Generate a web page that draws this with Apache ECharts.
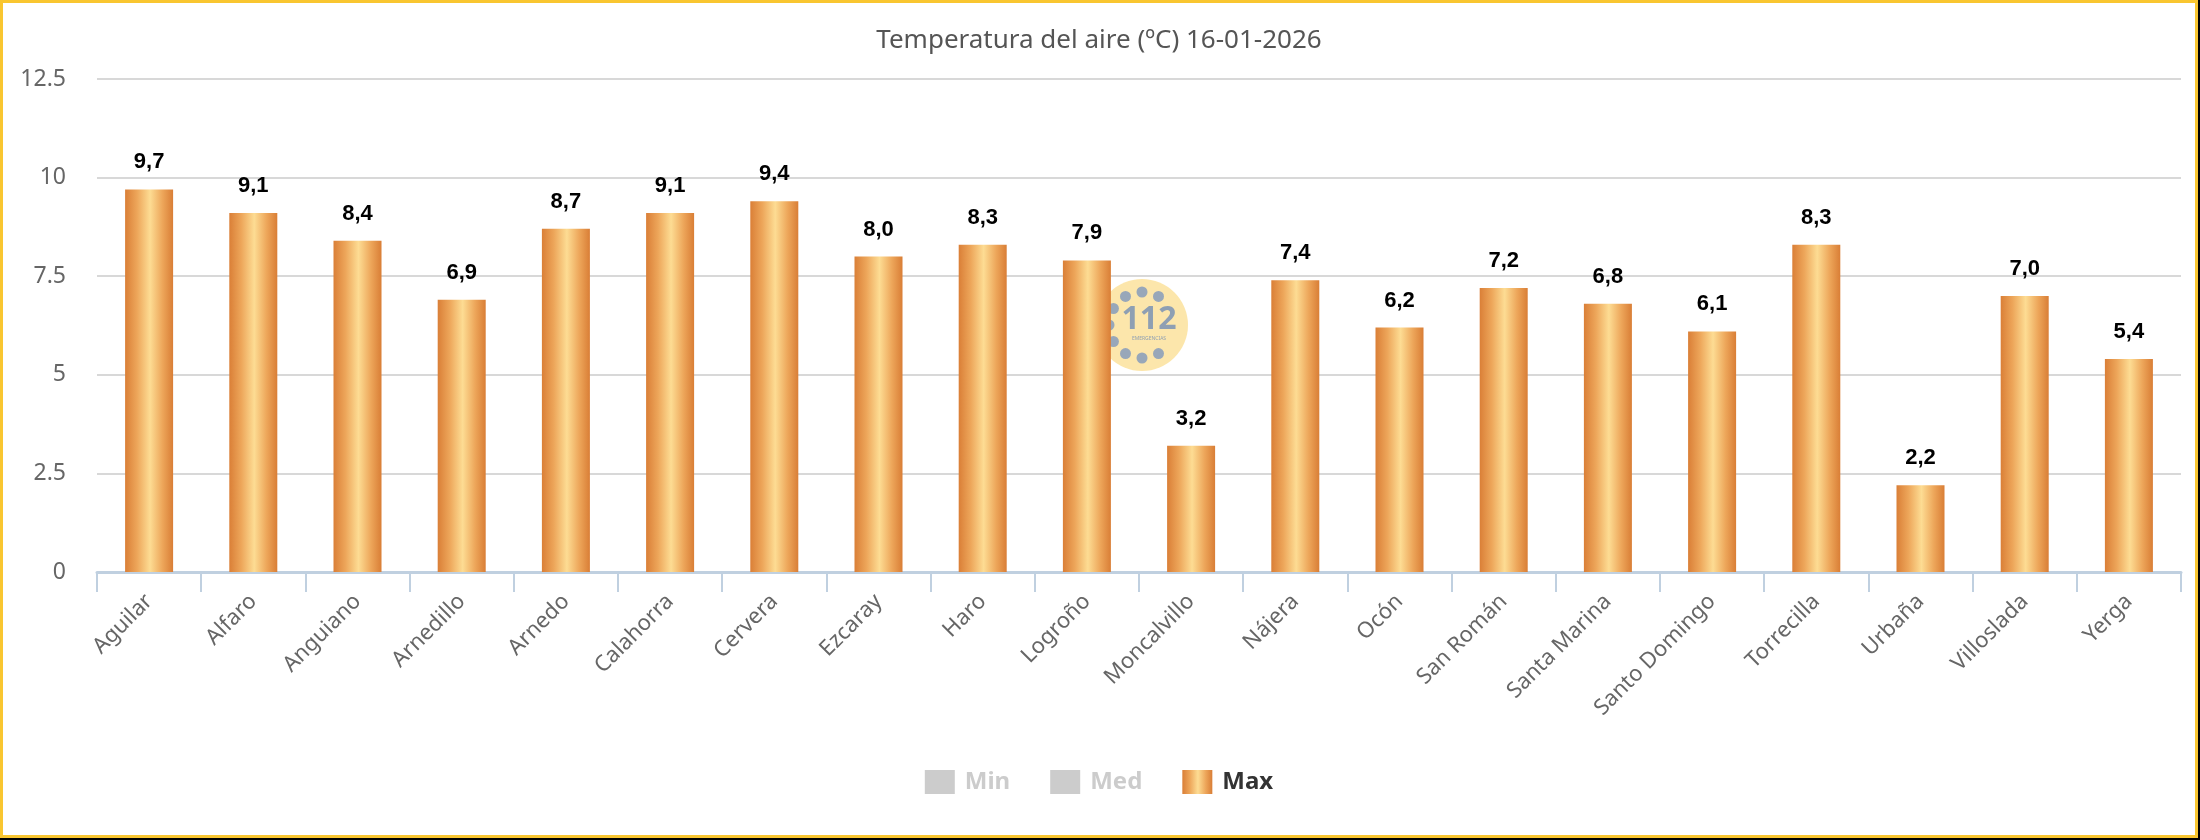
<!DOCTYPE html>
<html>
<head>
<meta charset="utf-8">
<script src="https://cdn.jsdelivr.net/npm/echarts@6/dist/echarts.min.js"></script>
<style>
  html, body { margin: 0; padding: 0; background: #000; }
  #chart { position: absolute; left: 0; top: 0; width: 2198px; height: 838px; background: #fff; }
  #frame { position: absolute; left: 0; top: 0; width: 2198px; height: 838px; box-sizing: border-box; border: 3px solid #f9c630; pointer-events: none; }
</style>
</head>
<body>
<div id="chart"></div>
<div id="frame"></div>
<script>
const titleText = 'Temperatura del aire (ºC) 16-01-2026';
const categories = ['Aguilar', 'Alfaro', 'Anguiano', 'Arnedillo', 'Arnedo', 'Calahorra', 'Cervera', 'Ezcaray', 'Haro', 'Logroño', 'Moncalvillo', 'Nájera', 'Ocón', 'San Román', 'Santa Marina', 'Santo Domingo', 'Torrecilla', 'Urbaña', 'Villoslada', 'Yerga'];
const seriesNames = ['Min', 'Med', 'Max'];
const minValues = [];
const medValues = [];
const maxValues = [9.7, 9.1, 8.4, 6.9, 8.7, 9.1, 9.4, 8.0, 8.3, 7.9, 3.2, 7.4, 6.2, 7.2, 6.8, 6.1, 8.3, 2.2, 7.0, 5.4];
const yMin = 0, yMax = 12.5, yInterval = 2.5;

const FONT = '"Noto Sans", sans-serif';
const barGradient = new echarts.graphic.LinearGradient(0, 0, 1, 0, [
  { offset: 0, color: '#da7f37' },
  { offset: 0.25, color: '#eda65a' },
  { offset: 0.52, color: '#fddc93' },
  { offset: 0.78, color: '#eda65a' },
  { offset: 1, color: '#d97e36' }
]);

const chart = echarts.init(document.getElementById('chart'), null, { renderer: 'canvas' });

// 112 watermark (decoration)
const wmCx = 1142, wmCy = 325, wmR = 46, dotR = 33;
const dotAngles = [-150, -120, -90, -60, 60, 90, 120, 150, 180];
const wmElements = [
  { type: 'circle', shape: { cx: wmCx, cy: wmCy, r: wmR }, style: { fill: '#fce3a2', opacity: 0.9 }, z: 1, silent: true }
];
dotAngles.forEach(a => {
  const rad = a * Math.PI / 180;
  wmElements.push({ type: 'circle', shape: { cx: wmCx + dotR * Math.cos(rad), cy: wmCy + dotR * Math.sin(rad), r: 5.5 }, style: { fill: '#98a7b9' }, z: 1, silent: true });
});
wmElements.push({ type: 'text', x: wmCx + 7, y: wmCy - 5, style: { text: '112', fill: '#8e9fb3', font: 'bold 32px "Noto Sans", sans-serif', align: 'center', verticalAlign: 'middle' }, z: 1, silent: true });
wmElements.push({ type: 'text', x: wmCx + 7, y: wmCy + 14, style: { text: 'EMERGENCIAS', fill: '#8e9fb3', font: '5px "Noto Sans", sans-serif', align: 'center', verticalAlign: 'middle' }, z: 1, silent: true });

chart.setOption({
  animation: false,
  backgroundColor: '#fff',
  title: {
    text: titleText,
    left: 'center',
    top: 23,
    textStyle: { fontFamily: FONT, fontSize: 26, fontWeight: 'normal', color: '#555' }
  },
  legend: {
    data: seriesNames,
    left: 'center',
    top: 765,
    icon: 'rect',
    itemWidth: 30,
    itemHeight: 24,
    itemGap: 40,
    selected: { Min: false, Med: false, Max: true },
    inactiveColor: '#cccccc',
    textStyle: { fontFamily: FONT, fontSize: 24, fontWeight: 'bold', color: '#333', padding: [0, 0, 0, 5] }
  },
  grid: { left: 97, right: 17, top: 79, bottom: 266, containLabel: false },
  xAxis: {
    type: 'category',
    data: categories,
    axisLine: { lineStyle: { color: '#c0d0e0', width: 3 } },
    axisTick: { show: true, length: 20, lineStyle: { color: '#c0d0e0', width: 2 } },
    axisLabel: { rotate: 45, interval: 0, margin: 26, color: '#666', fontFamily: FONT, fontSize: 22 }
  },
  yAxis: {
    type: 'value',
    min: yMin,
    max: yMax,
    interval: yInterval,
    axisLine: { show: false },
    axisTick: { show: false },
    splitLine: { lineStyle: { color: '#d8d8d8', width: 2 } },
    axisLabel: { margin: 31, color: '#666', fontFamily: FONT, fontSize: 23 }
  },
  graphic: { elements: wmElements },
  series: [
    { name: 'Min', type: 'bar', data: minValues, itemStyle: { color: '#5b9bd5' } },
    { name: 'Med', type: 'bar', data: medValues, itemStyle: { color: '#a5a5a5' } },
    {
      name: 'Max', type: 'bar', data: maxValues, barWidth: 48, z: 3,
      itemStyle: { color: barGradient },
      label: {
        show: true, position: 'top', distance: 16,
        color: '#000', fontFamily: '"Liberation Sans", Arial, sans-serif', fontWeight: 'bold', fontSize: 22,
        formatter: p => p.value.toFixed(1).replace('.', ',')
      }
    }
  ]
});
</script>
</body>
</html>
